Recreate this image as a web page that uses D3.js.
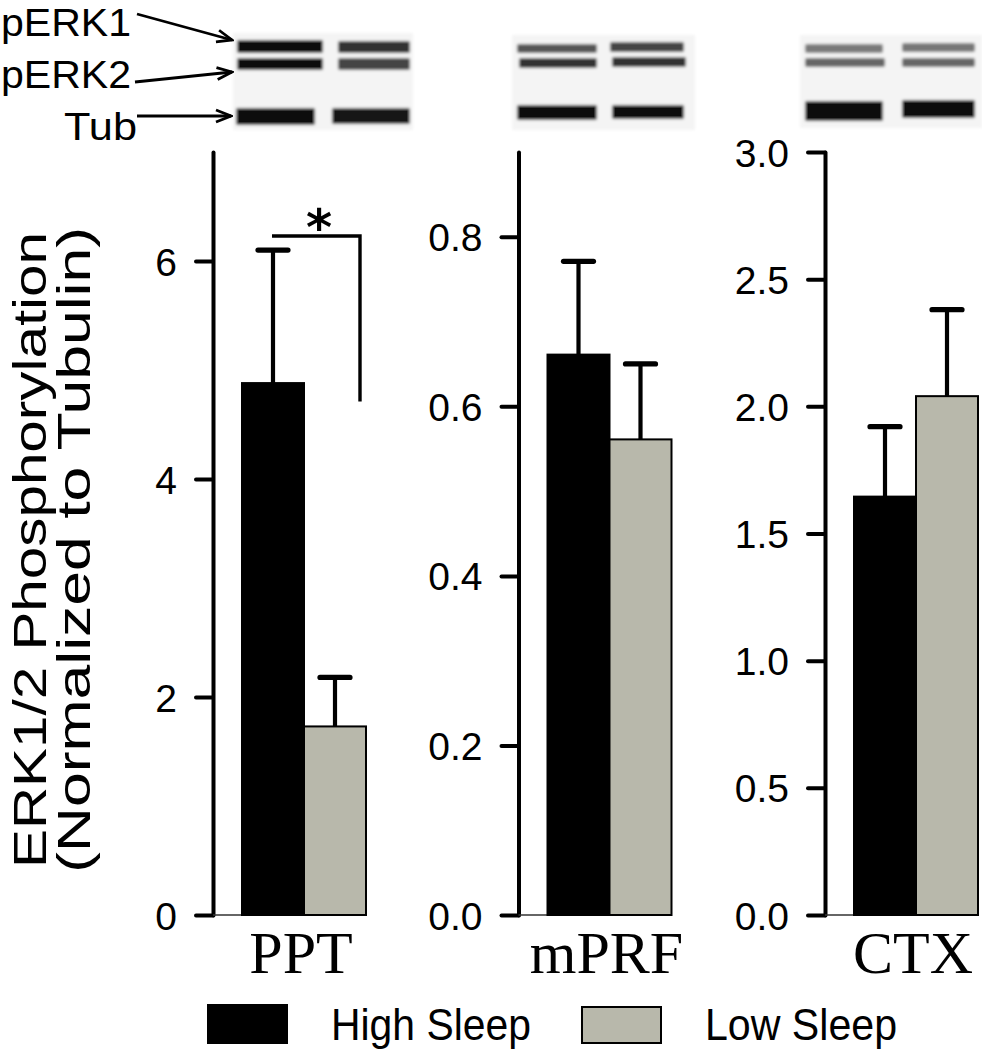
<!DOCTYPE html>
<html><head><meta charset="utf-8">
<script src="https://cdn.jsdelivr.net/npm/d3@7"></script>
<style>body{margin:0;background:#fff} svg{display:block}</style>
</head><body><svg id="chart" width="982" height="1050"></svg>
<script>
// ---- data ----
const categories = ["PPT", "mPRF", "CTX"];
const seriesNames = ["High Sleep", "Low Sleep"];
const highSleepMean = [4.88, 0.661, 1.645];
const highSleepSEM  = [1.22, 0.110, 0.275];
const lowSleepMean  = [1.73, 0.561, 2.04];
const lowSleepSEM   = [0.45, 0.089, 0.34];
const yMax = [7, 0.9, 3];
const yTicks = [[0, 2, 4, 6], [0, 0.2, 0.4, 0.6, 0.8], [0, 0.5, 1.0, 1.5, 2.0, 2.5, 3.0]];
const tickFormats = ["d", ".1f", ".1f"];
const blotLabels = ["pERK1", "pERK2", "Tub"];
const yTitleLines = ["ERK1/2 Phosphorylation", "(Normalized to Tubulin)"];
const sigLabel = "*";

// ---- layout ----
const svg = d3.select("#chart");
const SANS = "'Liberation Sans', Arial, sans-serif";
const SERIF = "'Liberation Serif', 'Times New Roman', serif";
const colors = d3.scaleOrdinal().domain(seriesNames).range(["#000000", "#b8b8ab"]);
const axisX = [213, 518.5, 825];
const yBottom = 915, yTop = 152;
const barOffset = 29, barW = 62;

const defs = svg.append("defs");
defs.append("filter").attr("id", "blur").attr("x", "-10%").attr("y", "-40%").attr("width", "120%").attr("height", "180%")
  .append("feGaussianBlur").attr("stdDeviation", 1.8);
defs.append("marker").attr("id", "arrow").attr("viewBox", "-16 -8 18 16")
  .attr("refX", 0).attr("refY", 0).attr("markerWidth", 18).attr("markerHeight", 16)
  .attr("markerUnits", "userSpaceOnUse").attr("orient", "auto")
  .append("path").attr("d", "M-15,-6 L0,0 L-15,6").attr("fill", "none")
  .attr("stroke", "#000").attr("stroke-width", 2.8);

// ---- western blot images (decoration) ----
const blots = [
  {bg: [233, 33, 180, 97], bands: [
    [237, 40, 86, 13, "#111"], [338, 41, 72, 12, "#333"],
    [237, 58, 86, 12, "#111"], [338, 58, 72, 12, "#444"],
    [236, 108, 79, 17, "#111"], [332, 108, 78, 16, "#161616"]]},
  {bg: [512, 35, 183, 95], bands: [
    [517, 44, 80, 9, "#555"], [610, 42, 74, 10, "#444"],
    [519, 58, 78, 10, "#333"], [612, 57, 74, 10, "#333"],
    [517, 105, 80, 15, "#111"], [612, 105, 72, 14, "#111"]]},
  {bg: [800, 35, 182, 93], bands: [
    [805, 44, 78, 9, "#7a7a7a"], [902, 43, 73, 9, "#777"],
    [805, 58, 80, 9, "#666"], [902, 58, 73, 9, "#666"],
    [805, 101, 78, 20, "#0c0c0c"], [902, 100, 73, 18, "#0c0c0c"]]}
];
const blotG = svg.append("g").attr("filter", "url(#blur)");
blots.forEach(b => {
  blotG.append("rect").attr("x", b.bg[0]).attr("y", b.bg[1]).attr("width", b.bg[2]).attr("height", b.bg[3]).attr("fill", "#f4f4f4");
  b.bands.forEach(r => blotG.append("rect").attr("x", r[0]).attr("y", r[1]).attr("width", r[2]).attr("height", r[3]).attr("fill", r[4]).attr("rx", 2));
});

// blot labels + arrows
const labelPos = [[1, 36, 130], [1, 88, 130], [64, 140, 73]];
const arrowPos = [[137, 14, 232, 40], [135, 82, 232, 72], [137, 116, 231, 116]];
blotLabels.forEach((t, i) => {
  svg.append("text").attr("x", labelPos[i][0]).attr("y", labelPos[i][1])
    .attr("font-family", SANS).attr("font-size", 38)
    .attr("textLength", labelPos[i][2]).attr("lengthAdjust", "spacingAndGlyphs").text(t);
  svg.append("line").attr("x1", arrowPos[i][0]).attr("y1", arrowPos[i][1])
    .attr("x2", arrowPos[i][2]).attr("y2", arrowPos[i][3])
    .attr("stroke", "#000").attr("stroke-width", 2.8).attr("marker-end", "url(#arrow)");
});

// ---- panels ----
categories.forEach((cat, i) => {
  const ax = axisX[i];
  const y = d3.scaleLinear().domain([0, yMax[i]]).range([yBottom, yTop]);
  const x = d3.scaleBand().domain(seriesNames).range([ax + barOffset, ax + barOffset + 2 * barW]).padding(0);
  const g = svg.append("g");

  const axis = d3.axisLeft(y).tickValues(yTicks[i]).tickFormat(d3.format(tickFormats[i]))
    .tickSize(17).tickSizeOuter(0).tickPadding(19);
  const axG = g.append("g").attr("transform", `translate(${ax},0)`).call(axis);
  axG.select(".domain").attr("stroke", "#000").attr("stroke-width", 4).attr("stroke-linecap", "round");
  axG.selectAll(".tick line").attr("stroke", "#000").attr("stroke-width", 4).attr("stroke-linecap", "round");
  axG.selectAll(".tick text").attr("font-family", SANS).attr("font-size", 39).attr("fill", "#000").attr("dy", "0.36em");

  // baseline between axis and first bar
  g.append("line").attr("x1", ax).attr("x2", ax + barOffset).attr("y1", yBottom).attr("y2", yBottom)
    .attr("stroke", "#333").attr("stroke-width", 1.5);

  const rows = [
    {s: seriesNames[0], m: highSleepMean[i], e: highSleepSEM[i]},
    {s: seriesNames[1], m: lowSleepMean[i], e: lowSleepSEM[i]}
  ];
  g.selectAll("rect.bar").data(rows).join("rect").attr("class", "bar")
    .attr("x", d => x(d.s)).attr("width", x.bandwidth())
    .attr("y", d => y(d.m)).attr("height", d => y(0) - y(d.m))
    .attr("fill", d => colors(d.s)).attr("stroke", "#000").attr("stroke-width", 2);
  g.selectAll("line.stem").data(rows).join("line").attr("class", "stem")
    .attr("x1", d => x(d.s) + x.bandwidth() / 2).attr("x2", d => x(d.s) + x.bandwidth() / 2)
    .attr("y1", d => y(d.m)).attr("y2", d => y(d.m + d.e))
    .attr("stroke", "#000").attr("stroke-width", 4.2);
  g.selectAll("line.cap").data(rows).join("line").attr("class", "cap")
    .attr("x1", d => x(d.s) + x.bandwidth() / 2 - 15).attr("x2", d => x(d.s) + x.bandwidth() / 2 + 15)
    .attr("y1", d => y(d.m + d.e)).attr("y2", d => y(d.m + d.e))
    .attr("stroke", "#000").attr("stroke-width", 5.2).attr("stroke-linecap", "round");

  // category label
  g.append("text").attr("x", ax + barOffset + barW - 3).attr("y", 973)
    .attr("text-anchor", "middle").attr("font-family", SERIF).attr("font-size", 60).text(cat);

  // significance bracket (PPT)
  if (i === 0) {
    const bx1 = x(seriesNames[0]) + x.bandwidth() / 2 - 1;
    const bx2 = x(seriesNames[1]) + x.bandwidth() - 6;
    g.append("path").attr("d", `M${bx1},${y(6.23)} H${bx2} V${y(4.71)}`)
      .attr("fill", "none").attr("stroke", "#000").attr("stroke-width", 3.4);
    g.append("text").attr("x", (bx1 + bx2) / 2 + 3).attr("y", y(6.41) + 29)
      .attr("text-anchor", "middle").attr("font-family", "'DejaVu Sans', sans-serif")
      .attr("font-weight", "bold").attr("font-size", 50).text(sigLabel);
  }
});

// ---- y title ----
const yt = svg.append("text").attr("transform", "translate(0,550) rotate(-90)")
  .attr("text-anchor", "middle").attr("font-family", SANS).attr("font-size", 47);
yt.append("tspan").attr("x", 0).attr("y", 46).attr("textLength", 636).attr("lengthAdjust", "spacingAndGlyphs").text(yTitleLines[0]);
yt.append("tspan").attr("x", 0).attr("y", 90).attr("textLength", 646).attr("lengthAdjust", "spacingAndGlyphs").text(yTitleLines[1]);

// ---- legend ----
const leg = svg.append("g");
const legPos = [[208, 1005, 79, 38, 331, 200], [582, 1007, 79, 36, 705, 192]];
seriesNames.forEach((s, i) => {
  const p = legPos[i];
  leg.append("rect").attr("x", p[0]).attr("y", p[1]).attr("width", p[2]).attr("height", p[3])
    .attr("fill", colors(s)).attr("stroke", "#000").attr("stroke-width", 2);
  leg.append("text").attr("x", p[4]).attr("y", 1040).attr("font-family", SANS).attr("font-size", 44)
    .attr("textLength", p[5]).attr("lengthAdjust", "spacingAndGlyphs").text(s);
});
</script>
</body></html>
